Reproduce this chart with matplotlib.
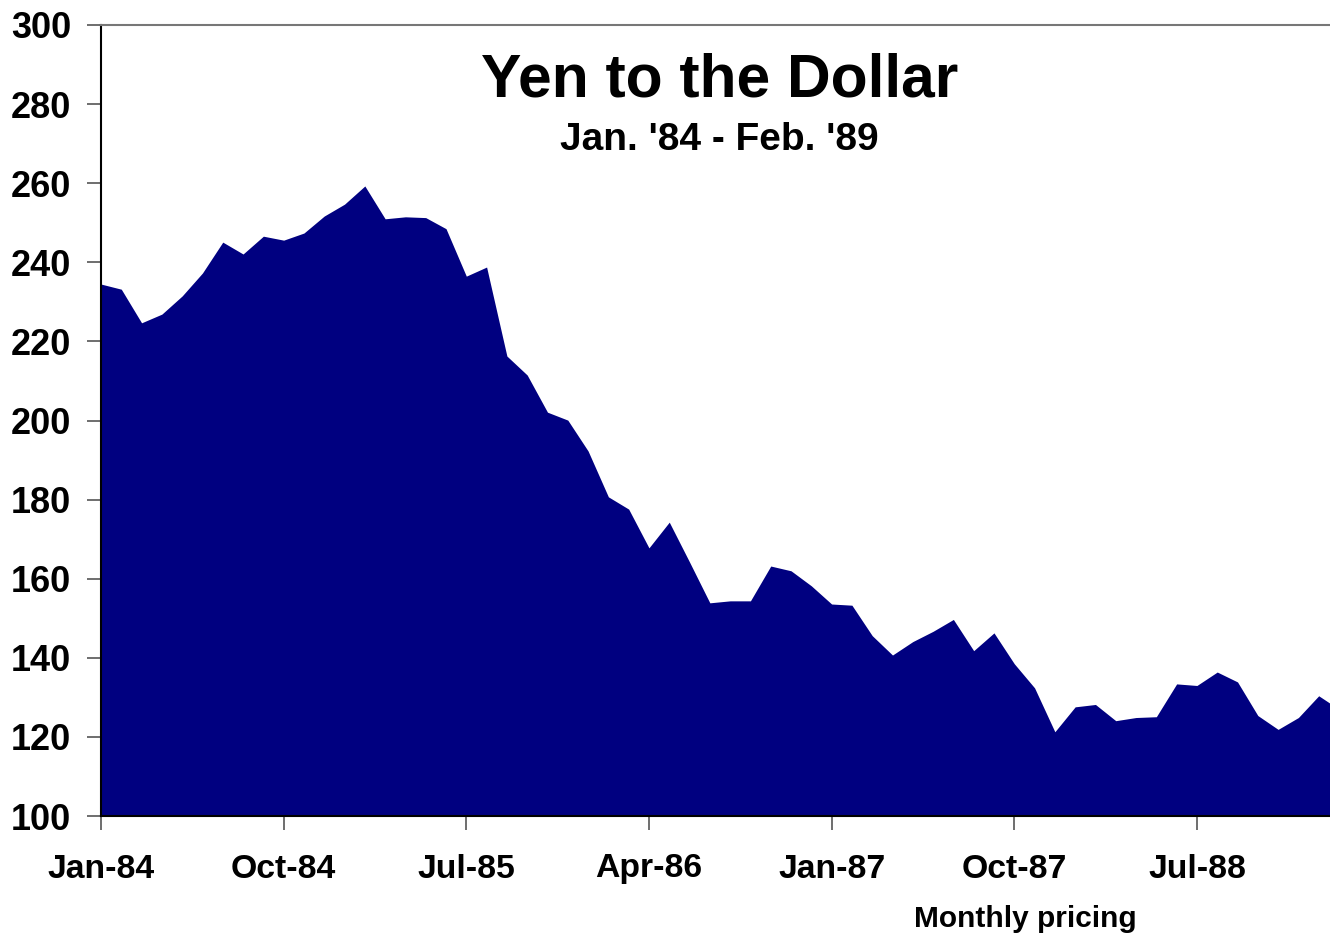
import matplotlib
matplotlib.use("Agg")
import matplotlib.pyplot as plt

plt.rcParams['font.family'] = ['Liberation Sans', 'DejaVu Sans']

# Monthly yen per dollar, Jan-84 .. Feb-89
yen = [234.5, 233.2, 224.7, 226.9, 231.5, 237.3, 245.1, 242.1, 246.6, 245.6,
       247.4, 251.7, 254.7, 259.3, 251.0, 251.5, 251.3, 248.5, 236.5, 238.8,
       216.3, 211.5, 202.1, 200.1, 192.3, 180.7, 177.6, 167.8, 174.3, 164.2,
       153.9, 154.4, 154.4, 163.2, 162.0, 158.2, 153.6, 153.3, 145.6, 140.7,
       144.1, 146.7, 149.7, 141.8, 146.3, 138.5, 132.4, 121.3, 127.6, 128.2,
       124.1, 124.9, 125.1, 133.4, 133.0, 136.4, 133.9, 125.4, 121.9, 124.9,
       130.4, 127.0]
tick_months = [0, 9, 18, 27, 36, 45, 54]
tick_labels = ['Jan-84', 'Oct-84', 'Jul-85', 'Apr-86', 'Jan-87', 'Oct-87', 'Jul-88']
y_ticks = list(range(100, 301, 20))

W, H = 1330, 935
fig = plt.figure(figsize=(W / 100, H / 100), dpi=100)
left, right_px = 101, 1339
bottom_px, top_px = 816, 25
ax = fig.add_axes([left / W, 1 - bottom_px / H, (right_px - left) / W, (bottom_px - top_px) / H])

months = list(range(len(yen)))
ax.fill_between(months, 100, yen, color='#000080', linewidth=0)
ax.set_xlim(0, len(yen) - 1)
ax.set_ylim(100, 300)

ax.set_yticks(y_ticks)
ax.set_yticklabels([str(v) for v in y_ticks], fontsize=26, fontweight='bold')
ax.set_xticks(tick_months)
ax.set_xticklabels(tick_labels, fontsize=24.3, fontweight='bold')
ax.tick_params(axis='y', length=10, width=1.2, color='#555555', pad=11.5)
ax.tick_params(axis='x', length=10, width=1.2, color='#555555', pad=17)

ax.spines['left'].set_color('black')
ax.spines['left'].set_linewidth(1.5)
ax.spines['bottom'].set_color('black')
ax.spines['bottom'].set_linewidth(1.5)
ax.spines['top'].set_color('#777777')
ax.spines['top'].set_linewidth(1.5)
ax.spines['right'].set_visible(False)

fig.text(720 / W, 1 - 81 / H, 'Yen to the Dollar', fontsize=43.6, fontweight='bold',
         ha='center', va='center')
fig.text(719 / W, 1 - 140 / H, "Jan. '84 - Feb. '89", fontsize=28, fontweight='bold',
         ha='center', va='center')
fig.text(1025 / W, 1 - 919 / H, 'Monthly pricing', fontsize=21.5, fontweight='bold',
         ha='center', va='center')

fig.savefig('out.png', dpi=100)
